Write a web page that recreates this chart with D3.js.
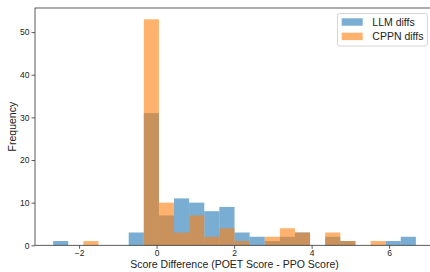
<!DOCTYPE html>
<html>
<head>
<meta charset="utf-8">
<script src="https://cdn.jsdelivr.net/npm/d3@7"></script>
<style>
  body { margin: 0; background: #fff; }
  svg { display: block; font-family: "Liberation Sans", Arial, sans-serif; }
</style>
</head>
<body>
<div id="canvas"></div>
<script>
// bin edges shared by both histograms
var binEdges = [-2.67, -2.28, -1.89, -1.50, -1.11, -0.72, -0.33, 0.06, 0.45, 0.84, 1.23, 1.62,
                2.01, 2.40, 2.79, 3.18, 3.57, 3.96, 4.35, 4.74, 5.13, 5.52, 5.91, 6.30, 6.69];
var llmCounts  = [1, 0, 0, 0, 0, 3, 31, 7, 11, 10, 8, 9, 3, 2, 1, 2, 3, 0, 2, 1, 0, 0, 1, 2];
var cppnCounts = [0, 0, 1, 0, 0, 0, 53, 10, 3, 7, 2, 4, 1, 0, 2, 4, 3, 0, 3, 1, 0, 1, 0, 0];
var seriesNames = ["LLM diffs", "CPPN diffs"];
var seriesColors = ["#1f77b4", "#ff7f0e"];
var xTicks = [-2, 0, 2, 4, 6];
var yTicks = [0, 10, 20, 30, 40, 50];

var width = 430, height = 272;
var plotLeft = 35, plotTop = 8, plotRight = 434, plotBottom = 245.3;

var svg = d3.select("#canvas").append("svg")
  .attr("width", width)
  .attr("height", height);

// matplotlib-like 5% margins
var lo = binEdges[0], hi = binEdges[binEdges.length - 1];
var pad = (hi - lo) * 0.05;
var x = d3.scaleLinear().domain([lo - pad, hi + pad]).range([plotLeft, plotRight]);
var ymax = d3.max(llmCounts.concat(cppnCounts)) * 1.05;
var y = d3.scaleLinear().domain([0, ymax]).range([plotBottom, plotTop]);

function bars(counts, color) {
  var data = counts.map(function(c, i) { return { x0: binEdges[i], x1: binEdges[i + 1], n: c }; })
    .filter(function(d) { return d.n > 0; });
  svg.append("g").selectAll("rect")
    .data(data)
    .enter().append("rect")
    .attr("x", function(d) { return x(d.x0); })
    .attr("width", function(d) { return x(d.x1) - x(d.x0); })
    .attr("y", function(d) { return y(d.n); })
    .attr("height", function(d) { return y(0) - y(d.n); })
    .attr("fill", color)
    .attr("fill-opacity", 0.6);
}
bars(llmCounts, seriesColors[0]);
bars(cppnCounts, seriesColors[1]);

// axes
var fmt = function(d) { return d < 0 ? "\u2212" + Math.abs(d) : d; };
var xAxis = svg.append("g")
  .attr("transform", "translate(0," + plotBottom + ")")
  .call(d3.axisBottom(x).tickValues(xTicks).tickFormat(fmt).tickSizeOuter(0).tickSize(3.5).tickPadding(1.5));
var yAxis = svg.append("g")
  .attr("transform", "translate(" + plotLeft + ",0)")
  .call(d3.axisLeft(y).tickValues(yTicks).tickSizeOuter(0).tickSize(3.5).tickPadding(2));
[xAxis, yAxis].forEach(function(a) {
  a.select(".domain").remove();
  a.selectAll("line").attr("stroke", "#333").attr("stroke-width", 0.8);
  a.selectAll("text").attr("fill", "#222").style("font-size", "8.5px")
    .style("font-family", "'Liberation Sans', Arial, sans-serif");
});

// frame
svg.append("rect")
  .attr("x", plotLeft).attr("y", plotTop)
  .attr("width", plotRight - plotLeft).attr("height", plotBottom - plotTop)
  .attr("fill", "none").attr("stroke", "#333").attr("stroke-width", 0.8);

// labels
svg.append("text")
  .attr("x", (plotLeft + plotRight) / 2).attr("y", 268.3)
  .attr("text-anchor", "middle")
  .style("font-size", "10.5px").attr("fill", "#222")
  .text("Score Difference (POET Score - PPO Score)");
svg.append("text")
  .attr("transform", "translate(16," + ((plotTop + plotBottom) / 2) + ") rotate(-90)")
  .attr("text-anchor", "middle")
  .style("font-size", "10.5px").attr("fill", "#222")
  .text("Frequency");

// legend
var lg = svg.append("g").attr("transform", "translate(337.5,13.5)");
lg.append("rect")
  .attr("width", 90).attr("height", 32.5).attr("rx", 2)
  .attr("fill", "#fff").attr("fill-opacity", 0.8)
  .attr("stroke", "#ccc").attr("stroke-width", 0.8);
seriesNames.forEach(function(name, i) {
  lg.append("rect")
    .attr("x", 4.2).attr("y", 4.8 + i * 14.4)
    .attr("width", 21).attr("height", 7.4)
    .attr("fill", seriesColors[i]).attr("fill-opacity", 0.6);
  lg.append("text")
    .attr("x", 34.8).attr("y", 12 + i * 14.4)
    .style("font-size", "10.5px").attr("fill", "#222")
    .text(name);
});
</script>
</body>
</html>
